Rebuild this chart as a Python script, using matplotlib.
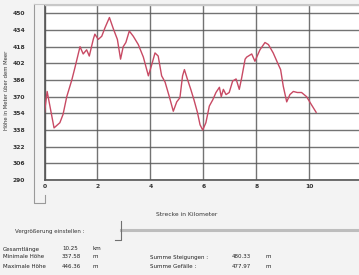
import matplotlib
matplotlib.use("Agg")
import matplotlib.pyplot as plt
from matplotlib.lines import Line2D

# ---- data ----
km = [0, 0.1, 0.36, 0.58, 0.7, 0.84, 1.03, 1.15, 1.34, 1.46, 1.59, 1.69, 1.84, 1.9,
      2.03, 2.16, 2.28, 2.45, 2.6, 2.75, 2.87, 2.97, 3.07, 3.2, 3.35, 3.54, 3.73, 3.92,
      4.05, 4.17, 4.29, 4.42, 4.55, 4.71, 4.86, 4.99, 5.11, 5.21, 5.28, 5.39, 5.52, 5.64,
      5.77, 5.87, 5.97, 6.09, 6.22, 6.35, 6.47, 6.6, 6.67, 6.75, 6.85, 6.97, 7.1, 7.23,
      7.35, 7.44, 7.57, 7.63, 7.82, 7.94, 8.13, 8.32, 8.45, 8.63, 8.82, 8.91, 9.01, 9.14,
      9.26, 9.39, 9.54, 9.7, 9.89, 10.08, 10.25]
elev = [355, 375, 340, 345, 353, 370, 386, 398, 418, 411, 415, 409, 425, 430,
        425, 428, 436, 446, 435, 425, 406, 418, 422, 433, 428, 420, 408, 390,
        401, 412, 409, 390, 384, 370, 356, 365, 369, 390, 396, 387, 377, 367,
        355, 343, 338, 345, 361, 367, 374, 379, 370, 377, 372, 374, 385, 387,
        377, 388, 406, 408, 411, 404, 415, 422, 420, 412, 401, 396, 380, 365,
        372, 375, 374, 374, 370, 362, 355]
y_ticks = [290, 306, 322, 338, 354, 370, 386, 402, 418, 434, 450]
x_ticks = [0, 2, 4, 6, 8, 10, 12]

stats_left = [("Gesamtlänge", "10.25", "km"),
              ("Minimale Höhe", "337.58", "m"),
              ("Maximale Höhe", "446.36", "m")]
stats_right = [("Summe Steigungen :", "480.33", "m"),
               ("Summe Gefälle :", "477.97", "m")]

W, H = 359, 275
fig = plt.figure(figsize=(W / 100, H / 100), dpi=100, facecolor="#f3f3f3")

def fx(px):
    return px / W

def fy(py):
    return 1 - py / H

# axes: x 0..12 from px 44.5 to 362.5 ; y 290..458 from py 180 to 5
left, right, top, bottom = 44.5, 362.5, 5, 180
ax = fig.add_axes([fx(left), fy(bottom), (right - left) / W, (bottom - top) / H])
ax.set_facecolor("white")
ax.set_xlim(0, 12)
ax.set_ylim(290, 458)

ax.set_yticks(y_ticks)
ax.set_xticks(x_ticks)
ax.set_xticklabels([str(t) for t in x_ticks])
ax.tick_params(axis="both", length=0, labelsize=4.3, colors="#333333")
ax.tick_params(axis="y", pad=14)
ax.tick_params(axis="x", pad=3)
for lab in ax.get_xticklabels() + ax.get_yticklabels():
    lab.set_fontweight("bold")

ax.grid(True, color="#5a5a5a", linewidth=1.0, alpha=0.85)
ax.set_axisbelow(True)
for s in ["top", "right"]:
    ax.spines[s].set_color("#c8c8c8")
    ax.spines[s].set_linewidth(1.0)
for s in ["left", "bottom"]:
    ax.spines[s].set_color("#555555")
    ax.spines[s].set_linewidth(1.2)

ax.plot(km, elev, color="#c84a64", linewidth=1.0, zorder=3)

# outer panel frame
fig.add_artist(Line2D([fx(34), fx(34), fx(45), fx(45)],
                      [fy(4), fy(203), fy(203), fy(195)],
                      color="#9a9a9a", linewidth=0.8))
fig.add_artist(Line2D([fx(34), fx(359)], [fy(4), fy(4)],
                      color="#c8c8c8", linewidth=0.8))

# axis labels
fig.text(fx(7), fy(90), "Höhe in Meter über dem Meer", rotation=90,
         ha="center", va="center", fontsize=3.8, color="#333333")
fig.text(fx(187), fy(215), "Strecke in Kilometer", ha="center", va="center",
         fontsize=4.3, color="#333333")

# slider
fig.text(fx(15), fy(232), "Vergrößerung einstellen :", ha="left", va="center",
         fontsize=4.0, color="#333333")
fig.add_artist(Line2D([fx(121), fx(359)], [fy(230), fy(230)],
                      color="#bdbdbd", linewidth=2.2))
fig.add_artist(Line2D([fx(115), fx(121), fx(121)], [fy(240), fy(240), fy(221)],
                      color="#707070", linewidth=0.8))

# stats
rows_y = [249, 257, 266]
for (lab, val, unit), y in zip(stats_left, rows_y):
    fig.text(fx(3), fy(y), lab, ha="left", va="center", fontsize=4.0, color="#222222")
    fig.text(fx(62), fy(y), val, ha="left", va="center", fontsize=4.0, color="#222222")
    fig.text(fx(93), fy(y), unit, ha="left", va="center", fontsize=4.0, color="#222222")
for (lab, val, unit), y in zip(stats_right, rows_y[1:]):
    fig.text(fx(150), fy(y), lab, ha="left", va="center", fontsize=4.0, color="#222222")
    fig.text(fx(232), fy(y), val, ha="left", va="center", fontsize=4.0, color="#222222")
    fig.text(fx(265), fy(y), unit, ha="left", va="center", fontsize=4.0, color="#222222")

fig.savefig("out.png", dpi=100, facecolor=fig.get_facecolor())
